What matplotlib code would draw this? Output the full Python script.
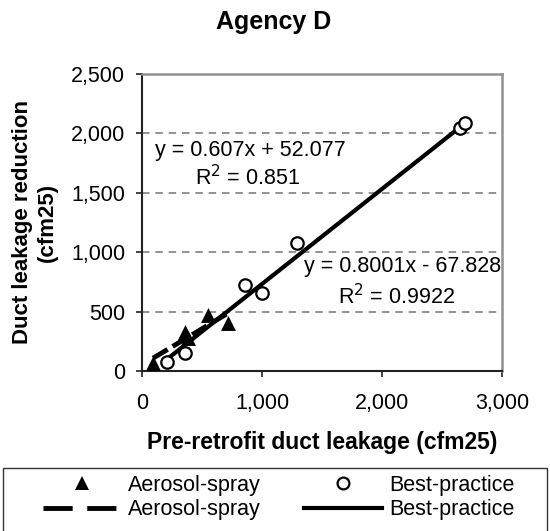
import matplotlib
matplotlib.use("Agg")
import matplotlib.pyplot as plt
import numpy as np
from matplotlib.lines import Line2D
from matplotlib.patches import Rectangle

plt.rcParams['font.family'] = ['Liberation Sans', 'DejaVu Sans']

# Data
aerosol_x = [92, 358, 380, 550, 717]
aerosol_y = [67, 328, 280, 470, 404]
best_x = [206, 358, 858, 997, 1289, 2650, 2692]
best_y = [78, 151, 724, 654, 1075, 2045, 2088]

aerosol_fit = (0.607, 52.077)
best_fit = (0.8001, -67.828)
aerosol_eq = "y = 0.607x + 52.077"
aerosol_r2 = "R$^2$ = 0.851"
best_eq = "y = 0.8001x - 67.828"
best_r2 = "R$^2$ = 0.9922"

x_ticks = [0, 1000, 2000, 3000]
y_ticks = [0, 500, 1000, 1500, 2000, 2500]

title = "Agency D"
xlabel = "Pre-retrofit duct leakage (cfm25)"
ylabel = "Duct leakage reduction\n(cfm25)"
legend_labels = ["Aerosol-spray", "Aerosol-spray", "Best-practice", "Best-practice"]

W, H = 550, 531
fig = plt.figure(figsize=(5.5, 5.31), dpi=100)
ax = fig.add_axes([142/W, 1-371/H, 360/W, 297/H])

fs = 15.5
ax.set_xlim(0, 3000)
ax.set_ylim(0, 2500)
ax.set_xticks(x_ticks)
ax.set_yticks(y_ticks)
ax.set_xticklabels([f"{v:,}" for v in x_ticks], fontsize=fs)
ax.set_yticklabels([f"{v:,}" for v in y_ticks], fontsize=fs)
ax.tick_params(direction='out', length=4, width=1.2, colors='#222222', labelcolor='black')
ax.tick_params(axis='y', pad=8)
ax.tick_params(axis='x', pad=12)
grid_dash = (0, (4.5, 3.5))
for yv in y_ticks[1:-1]:
    ax.axhline(yv, color='#808080', ls=grid_dash, lw=1.2, zorder=0)
for s in ['top', 'right']:
    ax.spines[s].set_color('#909090')
    ax.spines[s].set_linewidth(1.8)
for s in ['left', 'bottom']:
    ax.spines[s].set_color('#222222')
    ax.spines[s].set_linewidth(1.5)

# trendlines
aer_dash = (0, (3.5, 1.2))
xa = np.array([min(aerosol_x), max(aerosol_x)])
ax.plot(xa, aerosol_fit[0]*xa + aerosol_fit[1], color='black', lw=3.5, ls=aer_dash, zorder=3,
        solid_capstyle='butt')
xb = np.array([min(best_x), max(best_x)])
ax.plot(xb, best_fit[0]*xb + best_fit[1], color='black', lw=3, zorder=3)

ax.scatter(aerosol_x, aerosol_y, marker='^', s=115, color='black', zorder=4, lw=0)
ax.scatter(best_x, best_y, marker='o', s=80, facecolor='white', edgecolor='black', lw=1.6, zorder=4)

ax.text(105, 1860, aerosol_eq, fontsize=fs, va='center', ha='left')
ax.text(440, 1630, aerosol_r2, fontsize=fs, va='center', ha='left')
ax.text(2990, 880, best_eq, fontsize=fs, va='center', ha='right')
ax.text(2605, 630, best_r2, fontsize=fs, va='center', ha='right')

fig.text(274/W, 1-22/H, title, fontsize=18, fontweight='bold', ha='center', va='center')
fig.text(322/W, 1-443/H, xlabel, fontsize=16.5, fontweight='bold', ha='center', va='center')
fig.text(35/W, 1-222/H, ylabel, fontsize=16, fontweight='bold', ha='center', va='center',
         rotation=90, linespacing=1.25)

# legend
fig.patches.append(Rectangle((3/W, -0.05), 544/W, (0.05 + 1-468/H), transform=fig.transFigure,
                             facecolor='white', edgecolor='#333333', lw=1, clip_on=False))
handles = [
    Line2D([], [], marker='^', color='black', ls='none', markersize=10.5, markeredgewidth=0),
    Line2D([], [], color='black', lw=3.5, ls=(0, (6, 3)), solid_capstyle='butt'),
    Line2D([], [], marker='o', markerfacecolor='white', markeredgecolor='black', ls='none', markersize=8.5, markeredgewidth=1.6),
    Line2D([], [], color='black', lw=3),
]
fig.legend(handles, legend_labels, ncol=2, frameon=False, fontsize=fs,
           loc='center left', bbox_to_anchor=(43/W, 1-497.5/H), handlelength=3.6,
           handletextpad=0.33, columnspacing=2.05, labelspacing=0.15, borderpad=0, borderaxespad=0)

fig.savefig("out.png", dpi=100)
